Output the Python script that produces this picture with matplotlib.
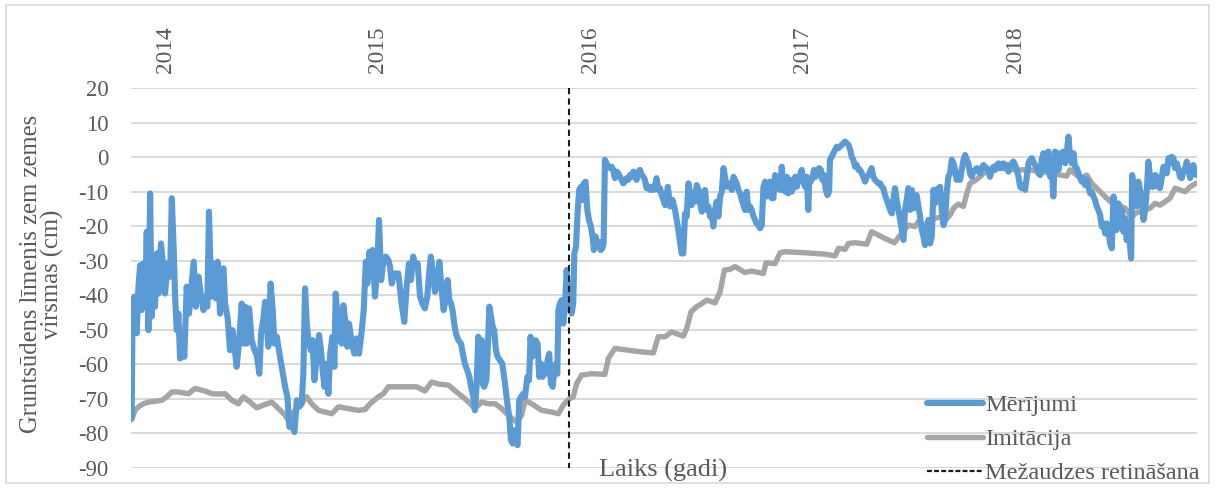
import matplotlib
matplotlib.use("Agg")
import matplotlib.pyplot as plt
from matplotlib.patches import Rectangle
from matplotlib.lines import Line2D

# Measured groundwater level (decimal year, cm relative to ground surface)
mer_year = [
    2013.843, 2013.847, 2013.856, 2013.867, 2013.875, 2013.883, 2013.890, 2013.898, 2013.906, 2013.914,
    2013.922, 2013.930, 2013.937, 2013.945, 2013.953, 2013.961, 2013.969, 2013.981, 2013.992, 2014.000,
    2014.013, 2014.024, 2014.032, 2014.041, 2014.047, 2014.055, 2014.063, 2014.071, 2014.082, 2014.091,
    2014.102, 2014.113, 2014.126, 2014.135, 2014.145, 2014.157, 2014.170, 2014.181, 2014.192, 2014.199,
    2014.207, 2014.217, 2014.228, 2014.239, 2014.248, 2014.259, 2014.267, 2014.275, 2014.283, 2014.295,
    2014.306, 2014.317, 2014.326, 2014.337, 2014.348, 2014.361, 2014.369, 2014.377, 2014.385, 2014.396,
    2014.408, 2014.421, 2014.432, 2014.444, 2014.452, 2014.463, 2014.471, 2014.479, 2014.486, 2014.497,
    2014.507, 2014.515, 2014.526, 2014.541, 2014.552, 2014.565, 2014.576, 2014.585, 2014.596, 2014.609,
    2014.620, 2014.631, 2014.643, 2014.651, 2014.659, 2014.667, 2014.675, 2014.686, 2014.694, 2014.703,
    2014.714, 2014.725, 2014.734, 2014.742, 2014.750, 2014.758, 2014.769, 2014.777, 2014.788, 2014.797,
    2014.803, 2014.813, 2014.824, 2014.832, 2014.839, 2014.850, 2014.858, 2014.866, 2014.879, 2014.891,
    2014.902, 2014.913, 2014.926, 2014.935, 2014.945, 2014.952, 2014.962, 2014.970, 2014.977, 2014.988,
    2014.998, 2015.007, 2015.017, 2015.028, 2015.039, 2015.051, 2015.059, 2015.067, 2015.079,
    2015.098, 2015.113, 2015.126, 2015.137, 2015.148, 2015.157, 2015.168, 2015.179, 2015.189, 2015.200,
    2015.211, 2015.223, 2015.234, 2015.244, 2015.251, 2015.262, 2015.270, 2015.281, 2015.291, 2015.302,
    2015.311, 2015.320, 2015.330, 2015.338, 2015.346, 2015.353, 2015.361, 2015.369, 2015.380, 2015.393,
    2015.404, 2015.411, 2015.422, 2015.432, 2015.440, 2015.451, 2015.458, 2015.466, 2015.474, 2015.482,
    2015.490, 2015.495, 2015.502, 2015.512, 2015.520, 2015.526, 2015.534, 2015.542, 2015.549, 2015.557,
    2015.565, 2015.576, 2015.587, 2015.600, 2015.611, 2015.620, 2015.628, 2015.636, 2015.644, 2015.651,
    2015.659, 2015.667, 2015.675, 2015.686, 2015.694, 2015.705, 2015.713, 2015.720, 2015.728, 2015.736,
    2015.744, 2015.753, 2015.761, 2015.769, 2015.777, 2015.785, 2015.793, 2015.800, 2015.808, 2015.816,
    2015.824, 2015.832, 2015.840, 2015.846, 2015.851, 2015.858, 2015.866, 2015.874, 2015.882, 2015.890,
    2015.898, 2015.906, 2015.913, 2015.921, 2015.926, 2015.934, 2015.942, 2015.949, 2015.957, 2015.965,
    2015.971, 2015.979, 2015.987, 2015.995, 2016.004, 2016.012, 2016.018, 2016.026, 2016.034, 2016.042,
    2016.050, 2016.058, 2016.064, 2016.070, 2016.078, 2016.086, 2016.094, 2016.102, 2016.109, 2016.117,
    2016.125, 2016.133, 2016.141, 2016.149, 2016.156, 2016.164, 2016.172, 2016.180, 2016.188, 2016.196,
    2016.204, 2016.211, 2016.219, 2016.227, 2016.235, 2016.243, 2016.251, 2016.258, 2016.266, 2016.274,
    2016.282, 2016.290, 2016.298, 2016.305, 2016.313, 2016.321, 2016.329, 2016.337, 2016.345, 2016.353,
    2016.366, 2016.377, 2016.388, 2016.400, 2016.413, 2016.424, 2016.431, 2016.439, 2016.447, 2016.455,
    2016.463, 2016.471, 2016.478, 2016.486, 2016.494, 2016.502, 2016.510, 2016.518, 2016.526, 2016.533,
    2016.541, 2016.549, 2016.557, 2016.565, 2016.573, 2016.580, 2016.588, 2016.596, 2016.604, 2016.612,
    2016.620, 2016.628, 2016.635, 2016.643, 2016.651, 2016.659, 2016.667, 2016.675, 2016.682, 2016.690,
    2016.698, 2016.706, 2016.714, 2016.722, 2016.729, 2016.737, 2016.745, 2016.753, 2016.761, 2016.769,
    2016.777, 2016.784, 2016.792, 2016.800, 2016.808, 2016.816, 2016.824, 2016.831, 2016.839, 2016.847,
    2016.855, 2016.863, 2016.871, 2016.878, 2016.886, 2016.894, 2016.902, 2016.910, 2016.918, 2016.926,
    2016.933, 2016.941, 2016.949, 2016.957, 2016.965, 2016.973, 2016.980, 2016.988, 2016.996, 2017.004,
    2017.012, 2017.020, 2017.027, 2017.031, 2017.038, 2017.046, 2017.054, 2017.062, 2017.070, 2017.078,
    2017.086, 2017.093, 2017.101, 2017.109, 2017.117, 2017.125, 2017.129, 2017.137, 2017.145, 2017.153,
    2017.161, 2017.169, 2017.176, 2017.184, 2017.192, 2017.200, 2017.208, 2017.216, 2017.224, 2017.231,
    2017.239, 2017.247, 2017.255, 2017.263, 2017.271, 2017.278, 2017.286, 2017.294, 2017.302, 2017.310,
    2017.318, 2017.325, 2017.333, 2017.341, 2017.349, 2017.357, 2017.365, 2017.373, 2017.380, 2017.388,
    2017.396, 2017.404, 2017.412, 2017.420, 2017.427, 2017.435, 2017.443, 2017.451, 2017.459, 2017.467,
    2017.475, 2017.482, 2017.490, 2017.498, 2017.506, 2017.514, 2017.522, 2017.529, 2017.537, 2017.545,
    2017.553, 2017.561, 2017.569, 2017.576, 2017.584, 2017.592, 2017.600, 2017.608, 2017.616, 2017.623,
    2017.631, 2017.639, 2017.647,
    2017.655, 2017.663, 2017.671, 2017.678, 2017.686, 2017.694, 2017.702, 2017.710, 2017.718, 2017.725,
    2017.733, 2017.741, 2017.749, 2017.757, 2017.765, 2017.773, 2017.780, 2017.788, 2017.796, 2017.804,
    2017.812, 2017.820, 2017.827, 2017.835, 2017.843, 2017.851, 2017.859, 2017.867, 2017.875, 2017.882,
    2017.890, 2017.898, 2017.906, 2017.914, 2017.922, 2017.929, 2017.937, 2017.945, 2017.953, 2017.961,
    2017.969, 2017.976, 2017.984, 2017.992, 2018.000, 2018.008, 2018.016, 2018.024, 2018.031, 2018.039,
    2018.047, 2018.055, 2018.063, 2018.071, 2018.078, 2018.086, 2018.094, 2018.102, 2018.110, 2018.118,
    2018.125, 2018.133, 2018.141, 2018.149, 2018.157, 2018.165, 2018.173, 2018.180, 2018.188, 2018.196,
    2018.204, 2018.212, 2018.220, 2018.227, 2018.235, 2018.243, 2018.251, 2018.259, 2018.267, 2018.275,
    2018.282, 2018.290, 2018.298, 2018.306, 2018.314, 2018.322, 2018.329, 2018.337, 2018.345, 2018.353,
    2018.361, 2018.369, 2018.376, 2018.384, 2018.392, 2018.400, 2018.408, 2018.416, 2018.424, 2018.431,
    2018.439, 2018.447, 2018.455, 2018.463, 2018.471, 2018.478, 2018.486, 2018.494, 2018.502, 2018.510,
    2018.518, 2018.525, 2018.533, 2018.541, 2018.546, 2018.551, 2018.557, 2018.565, 2018.573, 2018.580,
    2018.588, 2018.596, 2018.604, 2018.612, 2018.620, 2018.627, 2018.635, 2018.643, 2018.651, 2018.659,
    2018.667, 2018.675, 2018.682, 2018.690, 2018.698, 2018.706, 2018.714, 2018.722, 2018.729, 2018.737,
    2018.745, 2018.753, 2018.761, 2018.769, 2018.776, 2018.784, 2018.792, 2018.800, 2018.808, 2018.816,
    2018.824, 2018.831, 2018.839, 2018.847, 2018.852,
]
mer_cm = [
    -75.5, -49.1, -40.4, -51.0, -37.5, -31.3, -44.3, -30.8, -43.3, -21.6,
    -50.1, -10.5, -46.2, -32.7, -43.3, -27.9, -39.5, -25.0, -31.7, -39.5,
    -30.8, -34.6, -11.9, -26.9, -39.5, -50.1, -45.3, -58.3, -54.0, -57.8,
    -37.5, -45.3, -36.6, -30.3, -43.3, -34.6, -40.4, -44.3, -40.4, -43.3,
    -15.8, -40.4, -30.8, -40.9, -30.3, -45.3, -34.6, -32.2, -42.4, -46.7,
    -55.9, -50.1, -54.0, -60.7, -54.0, -42.4, -54.0, -43.3, -54.0, -43.8,
    -53.0, -55.9, -57.3, -62.7, -51.1, -46.7, -41.9, -48.2, -54.9, -36.6,
    -44.3, -54.0, -52.0, -57.8, -61.7, -66.5, -69.4, -78.1, -77.2, -79.6,
    -70.4, -72.3, -71.4, -62.7, -38.0, -48.2, -53.0, -55.9, -53.0, -64.6,
    -57.8, -51.5, -55.9, -61.7, -66.5, -59.8, -68.5, -56.9, -52.0, -60.7,
    -39.5, -47.2, -53.0, -54.0, -42.9, -48.2, -54.9, -48.2, -54.0, -56.9,
    -52.5, -56.9, -50.1, -44.3, -30.3, -36.6, -27.4, -34.6, -26.9, -40.4,
    -32.7, -18.2, -35.6, -29.8, -28.8, -29.8, -31.7, -36.6, -33.7,
    -33.7, -42.4, -47.7, -37.5, -30.8, -35.6, -28.8, -31.7, -30.8, -40.4,
    -42.4, -43.8, -40.4, -32.7, -28.8, -33.7, -39.0, -36.6, -30.3, -38.5,
    -44.3, -41.4, -35.6, -41.4, -42.4, -44.3, -48.2, -51.1, -53.0, -54.0,
    -57.8, -59.8, -61.7, -63.6, -66.5, -69.4, -73.3, -66.5, -52.0, -63.6,
    -53.0, -65.6, -66.5, -64.6, -54.0, -43.3, -46.2, -49.1, -50.1, -55.9,
    -57.8, -58.8, -59.8, -65.6, -71.4, -75.2, -82.0, -82.9, -79.1, -82.0,
    -83.4, -70.4, -69.4, -68.5, -69.4, -63.6, -64.6, -52.0, -57.8, -54.0,
    -53.0, -54.0, -63.6, -59.8, -63.6, -60.7, -62.7, -58.8, -56.9, -65.6,
    -66.5, -61.7, -59.8, -62.7, -44.3, -42.4, -41.4, -48.2, -43.3, -32.7,
    -40.4, -44.3, -45.3, -42.4, -27.9, -25.9, -15.3, -9.5, -8.6, -12.4,
    -7.6, -7.1, -15.3, -18.2, -20.1, -23.0, -26.9, -23.0, -25.9, -24.5,
    -26.9, -26.4, -25.0, -0.8, -1.8, -2.8, -3.2, -2.8, -3.7, -6.1,
    -4.2, -4.7, -5.7, -6.6, -7.6, -7.1, -6.1, -6.6, -5.2, -5.7,
    -4.2, -5.2, -6.6, -4.2, -3.7, -5.2, -5.7, -6.6, -9.0, -8.6,
    -9.5, -8.6, -9.5, -8.6, -6.1, -9.5, -9.0, -11.0, -12.4, -13.9,
    -8.6, -14.3, -12.4, -15.3, -20.1, -25.0, -27.9, -27.9, -16.3, -17.2,
    -7.6, -10.5, -13.9, -10.5, -12.9, -8.1, -9.5, -13.4, -15.8, -10.5,
    -9.5, -15.3, -14.3, -17.2, -16.3, -20.1, -15.3, -12.9, -17.2, -11.4,
    -10.0, -3.2, -5.7, -8.6, -7.6, -7.6, -9.5, -5.7, -6.6, -7.6,
    -9.5, -10.5, -12.4, -13.9, -15.3, -10.0, -15.3, -14.3, -15.3, -17.2,
    -18.2, -19.2, -19.7, -20.6, -19.7, -8.6, -7.1, -11.4, -7.6, -7.1,
    -11.9, -11.9, -5.2, -8.6, -6.1, -9.5, -2.8, -9.5, -10.0, -5.7,
    -10.5, -6.6, -10.0, -8.6, -5.7, -8.6, -6.6, -5.2, -3.7, -7.1,
    -8.6, -5.7, -15.3, -7.6, -7.1, -6.1, -3.7, -5.7, -4.7, -3.2,
    -3.7, -6.6, -5.2, -9.5, -11.0, -10.0, -0.8, 0.1, 1.1, 2.1,
    3.0, 2.6, 3.0, 3.5, 4.0, 4.5, 4.0, 3.5, 2.1, 0.1,
    -0.8, -2.8, -2.3, -3.7, -3.7, -4.7, -5.7, -7.1, -5.7, -5.2,
    -4.2, -3.2, -5.7, -6.6, -7.1, -7.6, -7.6, -8.6, -9.0, -11.0,
    -12.4, -13.9, -15.3, -16.3, -12.4, -9.0, -12.4, -15.3, -18.2, -21.1,
    -24.0, -15.3, -12.4, -9.0, -15.3, -9.5, -14.8, -11.4, -11.0, -14.3,
    -17.2, -21.1, -23.0, -25.5, -23.0, -18.2, -25.0, -23.0, -9.5, -13.4,
    -9.5, -9.0, -8.6,
    -15.3, -19.7, -18.2, -10.5, -5.7, -4.7, -0.8, -1.8, -3.7, -6.6,
    -5.7, -6.6, -3.7, -0.8, 0.6, -0.8, -1.8, -4.7, -5.7, -4.2,
    -3.7, -3.2, -4.2, -4.7, -3.2, -2.3, -2.8, -3.2, -4.2, -5.7,
    -3.7, -2.8, -3.7, -2.3, -1.8, -3.2, -2.3, -1.8, -3.2, -2.3,
    -4.2, -2.8, -1.8, -1.3, -2.3, -3.7, -5.7, -8.6, -9.0, -8.1,
    -9.5, -5.7, -1.8, -0.8, -0.3, -1.3, -2.3, -3.2, -4.7, -5.2,
    -0.8, 1.1, -3.7, 1.1, 1.6, -5.7, -3.2, -11.4, 1.6, 1.1,
    -3.7, 1.1, 0.1, 1.6, -1.8, 1.1, 5.9, 0.1, -1.8, 1.1,
    -2.8, -3.2, -4.7, -6.1, -7.1, -6.1, -8.1, -6.6, -8.6, -10.5,
    -10.0, -11.4, -12.4, -14.3, -15.3, -16.8, -20.1, -19.2, -22.1, -19.2,
    -21.1, -25.0, -26.4, -11.4, -15.3, -21.1, -13.4, -20.1, -15.3, -21.6,
    -17.7, -24.0, -19.7, -25.9, -29.3, -5.2, -8.6, -11.4, -14.3, -7.1,
    -9.5, -11.4, -18.2, -15.3, -9.5, -1.3, -5.7, -8.6, -8.6, -5.2,
    -5.7, -8.6, -9.0, -6.1, -2.8, -2.8, -4.7, -0.3, -1.8, 0.1,
    -0.3, -3.2, -1.8, -3.7, -5.7, -6.1, -4.2, -3.2, -1.3, -3.7,
    -6.1, -2.8, -2.3, -4.2, -5.2,
]

# Simulated groundwater level (decimal year, cm)
imi_year = [
    2013.843, 2013.859, 2013.875, 2013.898, 2013.922, 2013.953, 2013.985, 2014.008, 2014.032, 2014.063,
    2014.110, 2014.141, 2014.188, 2014.220, 2014.251, 2014.283, 2014.314, 2014.345, 2014.369, 2014.400,
    2014.432, 2014.463, 2014.502, 2014.534, 2014.565, 2014.588, 2014.604, 2014.628, 2014.667, 2014.690,
    2014.722, 2014.753, 2014.785, 2014.816, 2014.863, 2014.910, 2014.941, 2014.965, 2015.004, 2015.028,
    2015.051, 2015.083, 2015.145, 2015.184, 2015.223, 2015.255, 2015.286, 2015.333, 2015.372, 2015.411,
    2015.458, 2015.490, 2015.521, 2015.553, 2015.584, 2015.623, 2015.655, 2015.678, 2015.694, 2015.725,
    2015.772, 2015.819, 2015.851, 2015.874, 2015.898, 2015.921, 2015.937, 2015.960, 2016.007, 2016.070,
    2016.086, 2016.117, 2016.180, 2016.243, 2016.298, 2016.321, 2016.353, 2016.384, 2016.439, 2016.455,
    2016.475, 2016.502, 2016.526, 2016.549, 2016.588, 2016.612, 2016.632, 2016.659, 2016.682, 2016.729,
    2016.761, 2016.816, 2016.828, 2016.871, 2016.894, 2016.918, 2017.012, 2017.106, 2017.153, 2017.169,
    2017.200, 2017.216, 2017.247, 2017.302, 2017.325, 2017.357, 2017.396, 2017.432, 2017.459, 2017.498,
    2017.529, 2017.545, 2017.576, 2017.600, 2017.624, 2017.647, 2017.671, 2017.694, 2017.710, 2017.733,
    2017.757, 2017.773, 2017.788, 2017.812, 2017.835, 2017.859, 2017.890, 2017.929, 2017.976, 2018.024,
    2018.071, 2018.118, 2018.165, 2018.212, 2018.243, 2018.259, 2018.290, 2018.314, 2018.337, 2018.361,
    2018.384, 2018.408, 2018.431, 2018.455, 2018.486, 2018.518, 2018.549, 2018.565, 2018.588, 2018.612,
    2018.635, 2018.659, 2018.682, 2018.706, 2018.729, 2018.753, 2018.776, 2018.800, 2018.824, 2018.850,
]
imi_cm = [
    -76.0, -73.3, -72.3, -71.4, -70.9, -70.7, -70.4, -69.4, -68.0, -68.0,
    -68.5, -67.0, -67.7, -68.5, -68.6, -68.5, -70.4, -71.4, -69.4, -70.9,
    -72.6, -71.8, -70.9, -72.8, -74.7, -77.0, -73.8, -72.3, -69.4, -71.4,
    -73.3, -73.8, -74.3, -72.3, -72.8, -73.3, -73.1, -71.4, -69.4, -68.5,
    -66.5, -66.5, -66.5, -66.5, -67.7, -65.1, -65.7, -66.0, -68.0, -69.9,
    -72.8, -70.9, -71.4, -71.4, -72.8, -75.2, -76.7, -74.7, -70.4, -71.4,
    -73.3, -73.8, -74.3, -71.8, -70.2, -69.4, -65.6, -63.1, -62.7, -62.9,
    -58.3, -55.4, -55.9, -56.4, -56.7, -52.0, -52.0, -50.6, -51.8, -49.6,
    -44.8, -43.3, -42.4, -41.4, -42.2, -39.0, -32.7, -32.5, -31.7, -33.4,
    -33.0, -33.7, -30.6, -30.8, -27.7, -27.4, -27.7, -28.1, -28.6, -26.4,
    -26.7, -25.0, -24.8, -25.2, -21.6, -22.6, -23.8, -24.8, -22.6, -19.7,
    -20.1, -18.7, -19.7, -18.2, -17.7, -17.4, -18.2, -16.8, -14.8, -13.6,
    -14.3, -10.5, -7.6, -6.8, -5.7, -4.2, -3.5, -3.2, -3.5, -3.7,
    -3.7, -4.2, -4.7, -5.2, -5.5, -3.7, -5.2, -6.1, -5.2, -7.6,
    -9.0, -10.5, -11.9, -13.2, -13.9, -14.8, -17.4, -16.3, -15.8, -15.3,
    -14.8, -13.4, -13.9, -12.9, -11.9, -9.0, -9.5, -10.0, -8.6, -7.6,
]

thinning_year = 2015.899
year_ticks = [2014, 2015, 2016, 2017, 2018]
year_labels = ["2014", "2015", "2016", "2017", "2018"]
y_ticks = list(range(-90, 21, 10))

BLUE = "#5B9BD5"
GRAY = "#A5A5A5"
TXT = "#595959"
GRID = "#D9D9D9"

plt.rcParams["font.family"] = ["Liberation Serif", "DejaVu Serif"]
FS_TICK = 16.3
FS_YEAR = 16.8
FS_LEG = 17.5
FS_XLAB = 19
FS_YLAB = 17.7

W, H = 1215, 488
fig = plt.figure(figsize=(W / 100, H / 100), dpi=100)
ax = fig.add_axes([131 / W, 1 - 468 / H, (1197 - 131) / W, (468 - 88) / H])

line_m, = ax.plot(mer_year, mer_cm, color=BLUE, lw=4.4, solid_joinstyle="round",
                  solid_capstyle="round", zorder=3, label="Mērījumi")
line_i, = ax.plot(imi_year, imi_cm, color=GRAY, lw=3.9, solid_joinstyle="round",
                  solid_capstyle="round", zorder=2, label="Imitācija")
ax.plot([thinning_year, thinning_year], [20, -90], color="#1a1a1a", lw=1.5,
        dashes=(3.0, 2.0), zorder=4, clip_on=False)

ax.set_xlim(2013.840, 2018.856)
ax.set_ylim(-90, 20)
ax.set_yticks(y_ticks)
ax.set_yticklabels([str(v) for v in y_ticks])
ax.yaxis.grid(True, color=GRID, lw=1.4, zorder=0)
ax.set_axisbelow(True)
for s in ax.spines.values():
    s.set_visible(False)
ax.tick_params(axis="y", length=0, pad=16, labelsize=FS_TICK, labelcolor=TXT)

ax.xaxis.tick_top()
ax.set_xticks(year_ticks)
ax.set_xticklabels(year_labels, rotation=90, ha="center", va="bottom")
ax.tick_params(axis="x", length=0, pad=11, labelsize=FS_YEAR, labelcolor=TXT)

fig.text(663 / W, 1 - 470 / H, "Laiks (gadi)", ha="center", va="center",
         fontsize=FS_XLAB, color=TXT)
fig.text(42 / W, 1 - 274 / H, "Gruntsūdens līmenis zem zemes\nvirsmas (cm)",
         rotation=90, ha="center", va="center", multialignment="center",
         fontsize=FS_YLAB, color=TXT, linespacing=0.95)

dash_handle = Line2D([], [], color="#1a1a1a", lw=1.6, dashes=(2.2, 1.0))
leg = fig.legend([line_m, line_i, dash_handle],
                 ["Mērījumi", "Imitācija", "Mežaudzes retināšana"],
                 loc="upper left", bbox_to_anchor=(927 / W, 1 - 394 / H),
                 frameon=False, fontsize=FS_LEG, handlelength=2.3, handletextpad=0.1,
                 labelspacing=0.5, borderaxespad=0, borderpad=0)
for t in leg.get_texts():
    t.set_color(TXT)

fig.add_artist(Rectangle((6 / W, 5 / H), (W - 12) / W, (H - 10) / H,
                         transform=fig.transFigure, fill=False,
                         edgecolor=GRID, lw=1.2))

fig.savefig("out.png", dpi=100)
